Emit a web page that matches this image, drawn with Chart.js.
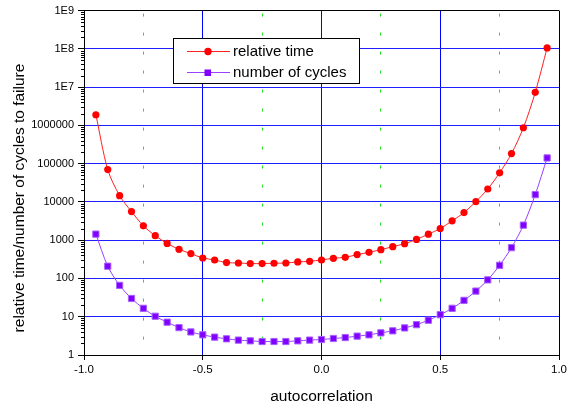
<!DOCTYPE html>
<html>
<head>
<meta charset="utf-8">
<script src="https://cdn.jsdelivr.net/npm/chart.js@4/dist/chart.umd.min.js"></script>
<style>
  html, body { margin: 0; padding: 0; background: #fff; }
  #wrap { width: 571px; height: 409px; }
</style>
</head>
<body>
<div id="wrap"><canvas id="chart" width="571" height="409"></canvas></div>
<script>
// autocorrelation values (x axis)
var autocorr = [-0.95, -0.9, -0.85, -0.8, -0.75, -0.7, -0.65, -0.6, -0.55, -0.5,
  -0.45, -0.4, -0.35, -0.3, -0.25, -0.2, -0.15, -0.1, -0.05, 0,
  0.05, 0.1, 0.15, 0.2, 0.25, 0.3, 0.35, 0.4, 0.45, 0.5,
  0.55, 0.6, 0.65, 0.7, 0.75, 0.8, 0.85, 0.9, 0.95];

// relative time (red circles)
var relTime = [1.9e6, 70000, 14600, 5600, 2380, 1310, 826, 577, 446, 343,
  304, 260, 254, 245, 245, 250, 254, 270, 281, 304,
  337, 357, 420, 482, 566, 678, 811, 1050, 1440, 2020,
  3200, 5270, 10200, 21800, 57700, 183000, 867000, 7.3e6, 1.06e8];

// number of cycles (purple squares)
var cycles = [1440, 209, 66, 30, 16.6, 10.3, 7.2, 5.2, 4.0, 3.37,
  2.93, 2.65, 2.45, 2.35, 2.25, 2.25, 2.25, 2.35, 2.45, 2.54,
  2.7, 2.86, 3.11, 3.37, 3.79, 4.28, 5.1, 6.2, 8.1, 11.3,
  16.6, 26.8, 46.8, 92, 221, 638, 2470, 15500, 141000];

var yTicks = [1, 10, 100, 1000, 10000, 100000, 1000000, 1e7, 1e8, 1e9];
var yTickLabels = ['1', '10', '100', '1000', '10000', '100000', '1000000', '1E7', '1E8', '1E9'];
var seriesNames = ['relative time', 'number of cycles'];

var FONT = "'Liberation Sans', Arial, sans-serif";

function pts(ys) {
  return autocorr.map(function (x, i) { return { x: x, y: ys[i] }; });
}

// minor log ticks on the left of the y axis
var minorTicks = {
  id: 'minorTicks',
  afterDraw: function (chart) {
    var y = chart.scales.y, ctx = chart.ctx, left = chart.chartArea.left;
    ctx.save();
    ctx.strokeStyle = '#000';
    ctx.lineWidth = 1;
    ctx.beginPath();
    for (var d = 1; d < 1e9; d *= 10) {
      for (var k = 2; k <= 9; k++) {
        var py = Math.round(y.getPixelForValue(d * k)) + 0.5;
        ctx.moveTo(left - 3, py);
        ctx.lineTo(left, py);
      }
    }
    ctx.stroke();
    ctx.restore();
  }
};

// y title centred on the whole figure height
var yTitle = {
  id: 'yTitle',
  afterDraw: function (chart) {
    var ctx = chart.ctx;
    ctx.save();
    ctx.translate(20, 198);
    ctx.rotate(-Math.PI / 2);
    ctx.font = '15.5px ' + FONT;
    ctx.fillStyle = '#000';
    ctx.textAlign = 'center';
    ctx.textBaseline = 'middle';
    ctx.fillText('relative time/number of cycles to failure', 0, 0);
    ctx.restore();
  }
};

// boxed legend inside the plot
var boxLegend = {
  id: 'boxLegend',
  afterDraw: function (chart) {
    var ctx = chart.ctx;
    var bx = 173.5, by = 38.5, bw = 186, bh = 45;
    ctx.save();
    ctx.fillStyle = '#fff';
    ctx.fillRect(bx, by, bw, bh);
    ctx.strokeStyle = '#000';
    ctx.lineWidth = 1;
    ctx.strokeRect(bx, by, bw, bh);
    chart.data.datasets.forEach(function (ds, i) {
      var cy = 51 + i * 21;
      ctx.strokeStyle = ds.borderColor;
      ctx.lineWidth = 1;
      ctx.beginPath();
      ctx.moveTo(187, cy + 0.5);
      ctx.lineTo(230, cy + 0.5);
      ctx.stroke();
      ctx.fillStyle = ds.pointBackgroundColor;
      if (ds.pointStyle === 'rect') {
        ctx.fillRect(204.5, cy - 2.5, 6.5, 6.5);
      } else {
        ctx.beginPath();
        ctx.arc(208, cy + 0.5, 3.7, 0, Math.PI * 2);
        ctx.fill();
      }
      ctx.fillStyle = '#000';
      ctx.font = '15px ' + FONT;
      ctx.textAlign = 'left';
      ctx.textBaseline = 'middle';
      ctx.fillText(ds.label, 233, cy + 1);
    });
    ctx.restore();
  }
};

var bg = {
  id: 'bg',
  beforeDraw: function (chart) {
    var ctx = chart.ctx;
    ctx.save();
    ctx.fillStyle = '#fff';
    ctx.fillRect(0, 0, chart.width, chart.height);
    ctx.restore();
  }
};

new Chart(document.getElementById('chart').getContext('2d'), {
  type: 'line',
  data: {
    datasets: [{
      label: seriesNames[0],
      data: pts(relTime),
      borderColor: '#ff2020',
      borderWidth: 1,
      pointStyle: 'circle',
      pointRadius: 3.6,
      pointBorderWidth: 0,
      pointBackgroundColor: '#ff0000',
      pointBorderColor: '#ff0000',
      tension: 0.3
    }, {
      label: seriesNames[1],
      data: pts(cycles),
      borderColor: '#9a40ff',
      borderWidth: 1,
      pointStyle: 'rect',
      pointRadius: 4.4,
      pointBorderWidth: 1,
      pointBackgroundColor: '#7f00ff',
      pointBorderColor: '#a860ff',
      tension: 0.3
    }]
  },
  options: {
    responsive: false,
    animation: false,
    layout: { padding: { top: 8, right: 12, left: 0, bottom: 0 } },
    plugins: { legend: { display: false }, tooltip: { enabled: false } },
    scales: {
      x: {
        type: 'linear',
        min: -1, max: 1,
        afterFit: function (s) { s.height = 54; },
        ticks: {
          stepSize: 0.25,
          autoSkip: false,
          maxRotation: 0,
          padding: 3,
          color: '#000',
          font: { family: FONT, size: 11.5 },
          callback: function (v) {
            return Math.abs(v * 2 - Math.round(v * 2)) < 1e-6 ? (+v).toFixed(1) : '';
          }
        },
        grid: {
          color: function (c) {
            if (!c.tick) return '#000';
            var v = c.tick.value;
            if (Math.abs(v - 1) < 1e-6) return '#000';
            return Math.abs(v * 2 - Math.round(v * 2)) < 1e-6 ? '#0000ff' : '#22e022';
          },
          tickColor: function (c) {
            if (!c.tick) return '#000';
            var v = c.tick.value;
            return Math.abs(v * 2 - Math.round(v * 2)) < 1e-6 ? '#000' : 'rgba(0,0,0,0)';
          },
          lineWidth: 1,
          tickLength: 5
        },
        border: {
          display: true, color: '#000', width: 1,
          dash: function (c) {
            if (!c.tick) return [];
            var v = c.tick.value;
            return Math.abs(v * 2 - Math.round(v * 2)) < 1e-6 ? [] : [3, 16];
          },
          dashOffset: -3
        },
        title: {
          display: true,
          text: 'autocorrelation',
          color: '#000',
          font: { family: FONT, size: 15.5 },
          padding: { top: 0, bottom: 3 }
        }
      },
      y: {
        type: 'logarithmic',
        min: 1, max: 1e9,
        afterFit: function (s) { s.width = 84; },
        afterBuildTicks: function (s) {
          s.ticks = yTicks.map(function (v) { return { value: v }; });
        },
        ticks: {
          autoSkip: false,
          padding: 4,
          color: '#000',
          font: { family: FONT, size: 11 },
          callback: function (v) {
            var i = yTicks.indexOf(v);
            return i >= 0 ? yTickLabels[i] : '';
          }
        },
        grid: {
          color: function (c) {
            if (!c.tick) return '#000';
            return c.tick.value >= 1e9 ? '#000' : '#2020ff';
          },
          tickColor: '#000',
          lineWidth: 1,
          tickLength: 6
        },
        border: { display: true, color: '#000', width: 1 },
        title: { display: false }
      }
    }
  },
  plugins: [bg, minorTicks, yTitle, boxLegend]
});
</script>
</body>
</html>
